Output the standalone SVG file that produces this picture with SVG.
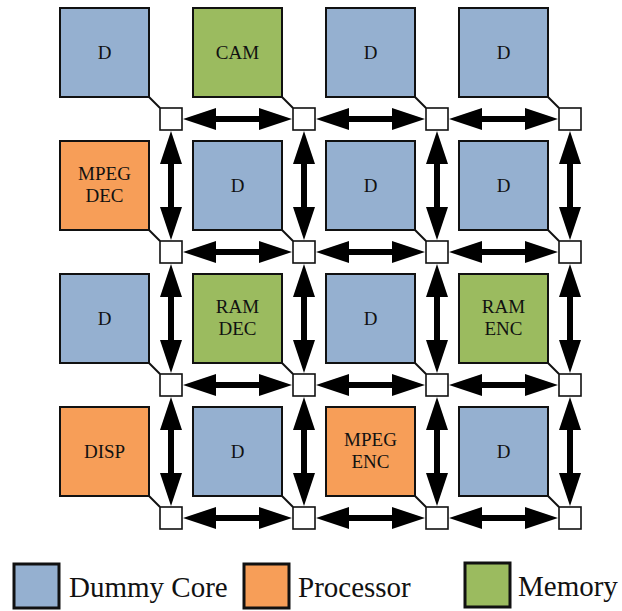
<svg xmlns="http://www.w3.org/2000/svg" xmlns:xlink="http://www.w3.org/1999/xlink" width="622" height="611" viewBox="0 0 622 611">
  <style>
    .core { stroke: #111; stroke-width: 2; }
    .dummy { fill: #95B0D0; }
    .proc { fill: #F79E58; }
    .mem { fill: #9BBB5F; }
    .router { fill: #fff; stroke: #111; stroke-width: 1.6; }
    .link { stroke: #111; stroke-width: 2; fill: none; }
    .lbl { font-family: "Liberation Serif", "Times New Roman", serif; font-size: 19px; fill: #111; text-anchor: middle; }
    .legend-box { stroke: #111; stroke-width: 3; }
    .legend-txt { font-family: "Liberation Serif", "Times New Roman", serif; font-size: 29px; fill: #111; }
    .arrow { fill: #000; }
  </style>
  <defs>
    <!-- double-headed link, 109 long, pointing along +x from the origin -->
    <path id="dbl" d="M0,0 L33,-11 L33,-3 L76,-3 L76,-11 L109,0 L76,11 L76,3 L33,3 L33,11 Z"/>
  </defs>

  <rect width="622" height="611" fill="#fff"/>

  <!-- cores: 89x89 tiles on a 133 px pitch, with a stub line to their router -->
  <g id="core-0-0"><rect class="core dummy" x="60" y="8" width="89" height="89"/><text class="lbl" x="104.5" y="59">D</text><line class="link" x1="149" y1="97" x2="160" y2="108"/></g>
  <g id="core-0-1"><rect class="core mem" x="193" y="8" width="89" height="89"/><text class="lbl" x="237.5" y="59">CAM</text><line class="link" x1="282" y1="97" x2="293" y2="108"/></g>
  <g id="core-0-2"><rect class="core dummy" x="326" y="8" width="89" height="89"/><text class="lbl" x="370.5" y="59">D</text><line class="link" x1="415" y1="97" x2="426" y2="108"/></g>
  <g id="core-0-3"><rect class="core dummy" x="459" y="8" width="89" height="89"/><text class="lbl" x="503.5" y="59">D</text><line class="link" x1="548" y1="97" x2="559" y2="108"/></g>

  <g id="core-1-0"><rect class="core proc" x="60" y="141" width="89" height="89"/><text class="lbl" x="104.5" y="180">MPEG</text><text class="lbl" x="104.5" y="201.5">DEC</text><line class="link" x1="149" y1="230" x2="160" y2="241"/></g>
  <g id="core-1-1"><rect class="core dummy" x="193" y="141" width="89" height="89"/><text class="lbl" x="237.5" y="192">D</text><line class="link" x1="282" y1="230" x2="293" y2="241"/></g>
  <g id="core-1-2"><rect class="core dummy" x="326" y="141" width="89" height="89"/><text class="lbl" x="370.5" y="192">D</text><line class="link" x1="415" y1="230" x2="426" y2="241"/></g>
  <g id="core-1-3"><rect class="core dummy" x="459" y="141" width="89" height="89"/><text class="lbl" x="503.5" y="192">D</text><line class="link" x1="548" y1="230" x2="559" y2="241"/></g>

  <g id="core-2-0"><rect class="core dummy" x="60" y="274" width="89" height="89"/><text class="lbl" x="104.5" y="325">D</text><line class="link" x1="149" y1="363" x2="160" y2="374"/></g>
  <g id="core-2-1"><rect class="core mem" x="193" y="274" width="89" height="89"/><text class="lbl" x="237.5" y="313">RAM</text><text class="lbl" x="237.5" y="334.5">DEC</text><line class="link" x1="282" y1="363" x2="293" y2="374"/></g>
  <g id="core-2-2"><rect class="core dummy" x="326" y="274" width="89" height="89"/><text class="lbl" x="370.5" y="325">D</text><line class="link" x1="415" y1="363" x2="426" y2="374"/></g>
  <g id="core-2-3"><rect class="core mem" x="459" y="274" width="89" height="89"/><text class="lbl" x="503.5" y="313">RAM</text><text class="lbl" x="503.5" y="334.5">ENC</text><line class="link" x1="548" y1="363" x2="559" y2="374"/></g>

  <g id="core-3-0"><rect class="core proc" x="60" y="407" width="89" height="89"/><text class="lbl" x="104.5" y="458">DISP</text><line class="link" x1="149" y1="496" x2="160" y2="507"/></g>
  <g id="core-3-1"><rect class="core dummy" x="193" y="407" width="89" height="89"/><text class="lbl" x="237.5" y="458">D</text><line class="link" x1="282" y1="496" x2="293" y2="507"/></g>
  <g id="core-3-2"><rect class="core proc" x="326" y="407" width="89" height="89"/><text class="lbl" x="370.5" y="446">MPEG</text><text class="lbl" x="370.5" y="467.5">ENC</text><line class="link" x1="415" y1="496" x2="426" y2="507"/></g>
  <g id="core-3-3"><rect class="core dummy" x="459" y="407" width="89" height="89"/><text class="lbl" x="503.5" y="458">D</text><line class="link" x1="548" y1="496" x2="559" y2="507"/></g>

  <!-- mesh links between routers -->
  <g id="links" class="arrow">
    <use xlink:href="#dbl" x="183" y="119"/><use xlink:href="#dbl" x="316" y="119"/><use xlink:href="#dbl" x="449" y="119"/>
    <use xlink:href="#dbl" x="183" y="252"/><use xlink:href="#dbl" x="316" y="252"/><use xlink:href="#dbl" x="449" y="252"/>
    <use xlink:href="#dbl" x="183" y="385"/><use xlink:href="#dbl" x="316" y="385"/><use xlink:href="#dbl" x="449" y="385"/>
    <use xlink:href="#dbl" x="183" y="518"/><use xlink:href="#dbl" x="316" y="518"/><use xlink:href="#dbl" x="449" y="518"/>
    <use xlink:href="#dbl" transform="translate(171,131) rotate(90)"/><use xlink:href="#dbl" transform="translate(171,264) rotate(90)"/><use xlink:href="#dbl" transform="translate(171,397) rotate(90)"/>
    <use xlink:href="#dbl" transform="translate(304,131) rotate(90)"/><use xlink:href="#dbl" transform="translate(304,264) rotate(90)"/><use xlink:href="#dbl" transform="translate(304,397) rotate(90)"/>
    <use xlink:href="#dbl" transform="translate(437,131) rotate(90)"/><use xlink:href="#dbl" transform="translate(437,264) rotate(90)"/><use xlink:href="#dbl" transform="translate(437,397) rotate(90)"/>
    <use xlink:href="#dbl" transform="translate(570,131) rotate(90)"/><use xlink:href="#dbl" transform="translate(570,264) rotate(90)"/><use xlink:href="#dbl" transform="translate(570,397) rotate(90)"/>
  </g>

  <!-- routers -->
  <g id="routers">
    <rect id="router-0-0" class="router" x="160" y="108" width="22" height="22"/>
    <rect id="router-0-1" class="router" x="293" y="108" width="22" height="22"/>
    <rect id="router-0-2" class="router" x="426" y="108" width="22" height="22"/>
    <rect id="router-0-3" class="router" x="559" y="108" width="22" height="22"/>
    <rect id="router-1-0" class="router" x="160" y="241" width="22" height="22"/>
    <rect id="router-1-1" class="router" x="293" y="241" width="22" height="22"/>
    <rect id="router-1-2" class="router" x="426" y="241" width="22" height="22"/>
    <rect id="router-1-3" class="router" x="559" y="241" width="22" height="22"/>
    <rect id="router-2-0" class="router" x="160" y="374" width="22" height="22"/>
    <rect id="router-2-1" class="router" x="293" y="374" width="22" height="22"/>
    <rect id="router-2-2" class="router" x="426" y="374" width="22" height="22"/>
    <rect id="router-2-3" class="router" x="559" y="374" width="22" height="22"/>
    <rect id="router-3-0" class="router" x="160" y="507" width="22" height="22"/>
    <rect id="router-3-1" class="router" x="293" y="507" width="22" height="22"/>
    <rect id="router-3-2" class="router" x="426" y="507" width="22" height="22"/>
    <rect id="router-3-3" class="router" x="559" y="507" width="22" height="22"/>
  </g>

  <!-- legend -->
  <g id="legend">
    <rect class="legend-box dummy" x="14" y="564" width="45" height="44"/>
    <text class="legend-txt" x="69" y="597">Dummy Core</text>
    <rect class="legend-box proc" x="244" y="564" width="45" height="44"/>
    <text class="legend-txt" x="298" y="597">Processor</text>
    <rect class="legend-box mem" x="465" y="563" width="45" height="44"/>
    <text class="legend-txt" x="518" y="596">Memory</text>
  </g>
</svg>
